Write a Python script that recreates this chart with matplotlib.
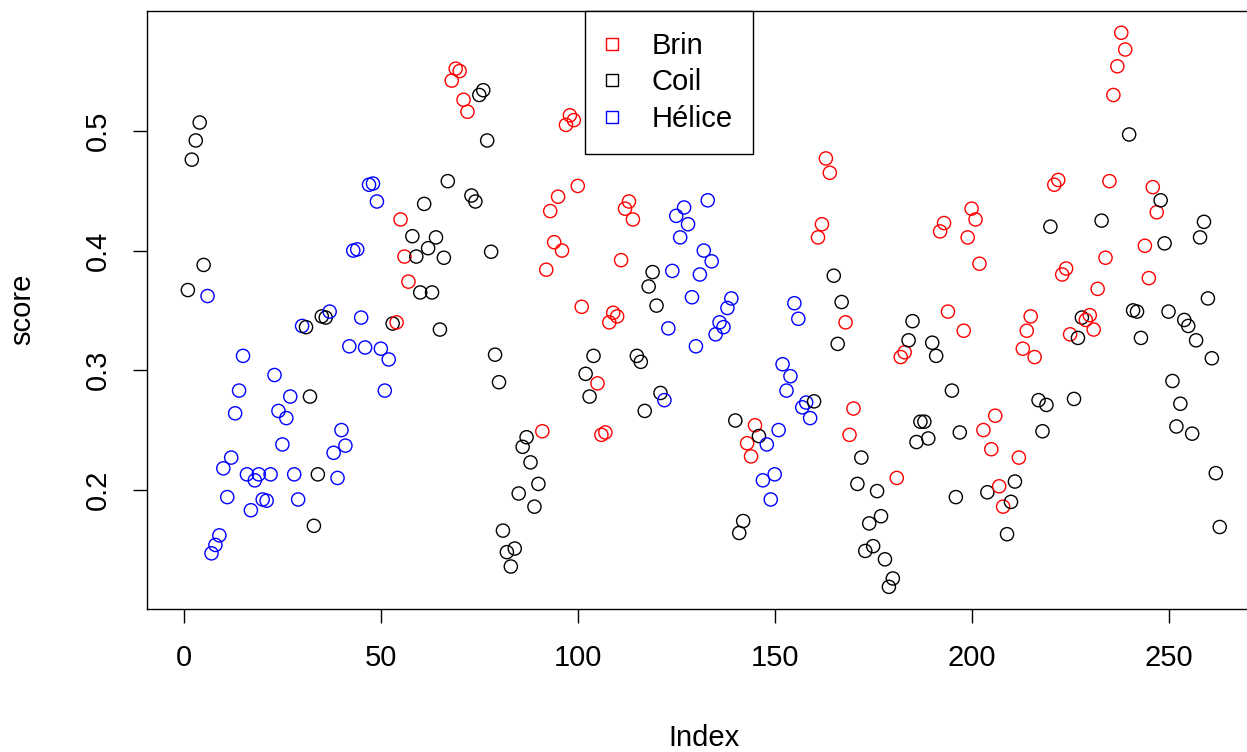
import matplotlib
matplotlib.use("Agg")
import matplotlib.pyplot as plt
from matplotlib.lines import Line2D

plt.rcParams['font.family'] = ['Liberation Sans', 'DejaVu Sans']

# class code per index: R = Brin, K = Coil, B = Hélice
codes = ("KKKKKBBBBB" "BBBBBBBBBB" "BBBBBBBBBB" "KKKKKKBBBB" "BBBBBBBBBB"
         "BBKRRRRKKK" "KKKKKKKRRR" "RRKKKKKKKK" "KKKKKKKKKK" "RRRRRRRRRR"
         "RKKKRRRRRR" "RRRRKKKKKK" "KBBBBBBBBB" "BBBBBBBBBK" "KKRRRKBBBB"
         "BBBBBBBBBK" "RRRRKKKRRR" "KKKKKKKKKK" "RRRKKKKKKK" "KRRRKKKRRR"
         "RRRKRRRRKK" "KRRRRRKKKK" "RRRRRKKKRR" "RRKRRRRRRK" "KKKRRRRKKK"
         "KKKKKKKKKK" "KKK")

score = [
    0.367, 0.476, 0.492, 0.507, 0.388, 0.362, 0.147, 0.154, 0.162, 0.218,
    0.194, 0.227, 0.264, 0.283, 0.312, 0.213, 0.183, 0.208, 0.213, 0.192,
    0.191, 0.213, 0.296, 0.266, 0.238, 0.260, 0.278, 0.213, 0.192, 0.337,
    0.336, 0.278, 0.170, 0.213, 0.345, 0.344, 0.349, 0.231, 0.210, 0.250,
    0.237, 0.320, 0.400, 0.401, 0.344, 0.319, 0.455, 0.456, 0.441, 0.318,
    0.283, 0.309, 0.339, 0.340, 0.426, 0.395, 0.374, 0.412, 0.395, 0.365,
    0.439, 0.402, 0.365, 0.411, 0.334, 0.394, 0.458, 0.542, 0.552, 0.550,
    0.526, 0.516, 0.446, 0.441, 0.530, 0.534, 0.492, 0.399, 0.313, 0.290,
    0.166, 0.148, 0.136, 0.151, 0.197, 0.236, 0.244, 0.223, 0.186, 0.205,
    0.249, 0.384, 0.433, 0.407, 0.445, 0.400, 0.505, 0.513, 0.509, 0.454,
    0.353, 0.297, 0.278, 0.312, 0.289, 0.246, 0.248, 0.340, 0.348, 0.345,
    0.392, 0.435, 0.441, 0.426, 0.312, 0.307, 0.266, 0.370, 0.382, 0.354,
    0.281, 0.275, 0.335, 0.383, 0.429, 0.411, 0.436, 0.422, 0.361, 0.320,
    0.380, 0.400, 0.442, 0.391, 0.330, 0.340, 0.336, 0.352, 0.360, 0.258,
    0.164, 0.174, 0.239, 0.228, 0.254, 0.245, 0.208, 0.238, 0.192, 0.213,
    0.250, 0.305, 0.283, 0.295, 0.356, 0.343, 0.269, 0.273, 0.260, 0.274,
    0.411, 0.422, 0.477, 0.465, 0.379, 0.322, 0.357, 0.340, 0.246, 0.268,
    0.205, 0.227, 0.149, 0.172, 0.153, 0.199, 0.178, 0.142, 0.119, 0.126,
    0.210, 0.311, 0.315, 0.325, 0.341, 0.240, 0.257, 0.257, 0.243, 0.323,
    0.312, 0.416, 0.423, 0.349, 0.283, 0.194, 0.248, 0.333, 0.411, 0.435,
    0.426, 0.389, 0.250, 0.198, 0.234, 0.262, 0.203, 0.186, 0.163, 0.190,
    0.207, 0.227, 0.318, 0.333, 0.345, 0.311, 0.275, 0.249, 0.271, 0.420,
    0.455, 0.459, 0.380, 0.385, 0.330, 0.276, 0.327, 0.344, 0.342, 0.346,
    0.334, 0.368, 0.425, 0.394, 0.458, 0.530, 0.554, 0.582, 0.568, 0.497,
    0.350, 0.349, 0.327, 0.404, 0.377, 0.453, 0.432, 0.442, 0.406, 0.349,
    0.291, 0.253, 0.272, 0.342, 0.337, 0.247, 0.325, 0.411, 0.424, 0.360,
    0.310, 0.214, 0.169,
]

categories = ["Brin", "Coil", "Hélice"]
code_to_cat = {"R": "Brin", "K": "Coil", "B": "Hélice"}
cat_colors = {"Brin": "red", "Coil": "black", "Hélice": "blue"}

structure = [code_to_cat[c] for c in codes]
index = list(range(1, len(score) + 1))
colors = [cat_colors[s] for s in structure]

xticks = [0, 50, 100, 150, 200, 250]
yticks = [0.2, 0.3, 0.4, 0.5]

W, H = 1247, 752
fig = plt.figure(figsize=(W / 100, H / 100), dpi=100)
# plot region (right edge lies beyond the figure, as in the reference)
left_px, right_px, top_px, bot_px = 146.6, 1261.0, 10.6, 609.0
ax = fig.add_axes([left_px / W, 1 - bot_px / H, (right_px - left_px) / W, (bot_px - top_px) / H])

ax.scatter(index, score, s=90, facecolors='none', edgecolors=colors, linewidths=1.0, zorder=3)

n = len(score)
xr = n - 1
ax.set_xlim(1 - 0.04 * xr, n + 0.04 * xr)
ymin, ymax = min(score), max(score)
yr = ymax - ymin
ax.set_ylim(ymin - 0.04 * yr, ymax + 0.04 * yr)

FS = 21
ax.set_xticks(xticks)
ax.set_xticklabels([str(t) for t in xticks])
ax.set_yticks(yticks)
ax.set_yticklabels([f"{t:.1f}" for t in yticks], rotation=90, va='center')
ax.tick_params(axis='both', length=10, width=1, labelsize=FS, color='black')
ax.tick_params(axis='x', pad=15)
ax.tick_params(axis='y', pad=15)
for sp in ax.spines.values():
    sp.set_linewidth(1.0)
    sp.set_color('black')

ax.set_xlabel("Index", fontsize=FS, labelpad=38)
ax.set_ylabel("score", fontsize=FS, labelpad=34)

handles = [Line2D([], [], linestyle='none', marker='s', markersize=8.5,
                  markerfacecolor='none', markeredgecolor=cat_colors[c],
                  markeredgewidth=1.0) for c in categories]
leg = ax.legend(handles, categories, loc='upper left',
                bbox_to_anchor=(585 / W, 1 - 11 / H), bbox_transform=fig.transFigure,
                borderaxespad=0, fancybox=False, framealpha=1, edgecolor='black',
                fontsize=FS, handlelength=0.4, handletextpad=1.15,
                labelspacing=0.29, borderpad=0.72)
leg.get_frame().set_linewidth(1.0)

fig.savefig("out.png", dpi=100)
